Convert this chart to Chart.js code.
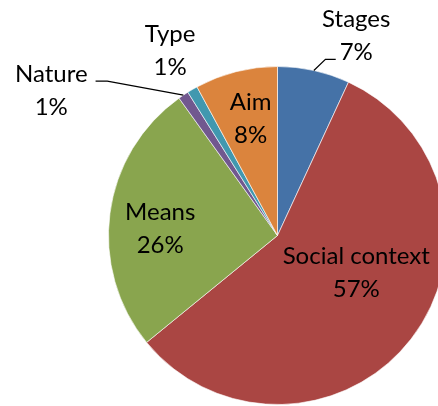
<!DOCTYPE html>
<html>
<head>
<meta charset="utf-8">
<script src="https://cdn.jsdelivr.net/npm/chart.js@4.4.0/dist/chart.umd.min.js"></script>
<style>
  html, body { margin: 0; padding: 0; background: #ffffff; }
  #wrap { position: relative; width: 438px; height: 406px; overflow: hidden; }
  #c { position: absolute; left: 0; top: 0; }
</style>
</head>
<body>
<div id="wrap"><canvas id="c" width="460" height="406"></canvas></div>
<script>
// Data (clockwise from 12 o'clock)
const categories = ["Stages", "Social context", "Means", "Nature", "Type", "Aim"];
const values = [6.9, 57.2, 26.0, 1.0, 1.0, 7.9];
const colors = ["#4572A7", "#AA4643", "#89A54E", "#71588F", "#4198AF", "#DB843D"];

// Label placement (style): radius factor, angle shift (deg), optional leader line
const labelStyle = [
  { r: 1.27, da: 9.1, leader: { dx: -20.5, dy: 23.5, elbow: -10.3 } },
  { r: 0.516, da: -12.4 },
  { r: 0.695, da: -4.4 },
  { r: 1.59, da: -23.5, leader: { dx: 44.3, dy: -9.3, elbow: 11.7 } },
  { r: 1.265, da: 0.1 },
  { r: 0.71, da: 1.3 }
];
const FONT = '24px Lato, "Liberation Sans", sans-serif';
const LINE = 33;

const labelPlugin = {
  id: 'pieLabels',
  afterDatasetsDraw(chart) {
    const ctx = chart.ctx;
    const meta = chart.getDatasetMeta(0);
    const data = chart.data.datasets[0].data;
    const total = data.reduce((a, b) => a + b, 0);
    ctx.save();
    ctx.font = FONT;
    ctx.fillStyle = '#000000';
    ctx.textAlign = 'center';
    ctx.textBaseline = 'middle';
    meta.data.forEach((arc, i) => {
      const p = arc.getProps(['x', 'y', 'startAngle', 'endAngle', 'outerRadius'], true);
      const mid = (p.startAngle + p.endAngle) / 2;
      const st = labelStyle[i];
      const a = mid + st.da * Math.PI / 180;
      const cx = p.x + Math.cos(a) * p.outerRadius * st.r;
      const cy = p.y + Math.sin(a) * p.outerRadius * st.r;
      const pct = Math.round(data[i] / total * 100) + '%';
      ctx.fillText(chart.data.labels[i], cx, cy - LINE / 2);
      ctx.fillText(pct, cx, cy + LINE / 2);
      if (st.leader) {
        const sx = p.x + Math.cos(mid) * p.outerRadius;
        const sy = p.y + Math.sin(mid) * p.outerRadius;
        const ex = cx + st.leader.dx;
        const ey = cy + st.leader.dy;
        ctx.beginPath();
        ctx.strokeStyle = '#000000';
        ctx.lineWidth = 1.2;
        ctx.moveTo(sx, sy);
        ctx.lineTo(ex + st.leader.elbow, ey);
        ctx.lineTo(ex, ey);
        ctx.stroke();
      }
    });
    ctx.restore();
  }
};

new Chart(document.getElementById('c'), {
  type: 'pie',
  data: {
    labels: categories,
    datasets: [{
      data: values,
      backgroundColor: colors,
      borderColor: 'rgba(255,255,255,0.6)',
      borderWidth: 1
    }]
  },
  options: {
    responsive: false,
    animation: false,
    layout: { padding: { left: 108, right: 13, top: 66, bottom: 1 } },
    plugins: {
      legend: { display: false },
      tooltip: { enabled: false }
    }
  },
  plugins: [labelPlugin]
});
</script>
</body>
</html>
